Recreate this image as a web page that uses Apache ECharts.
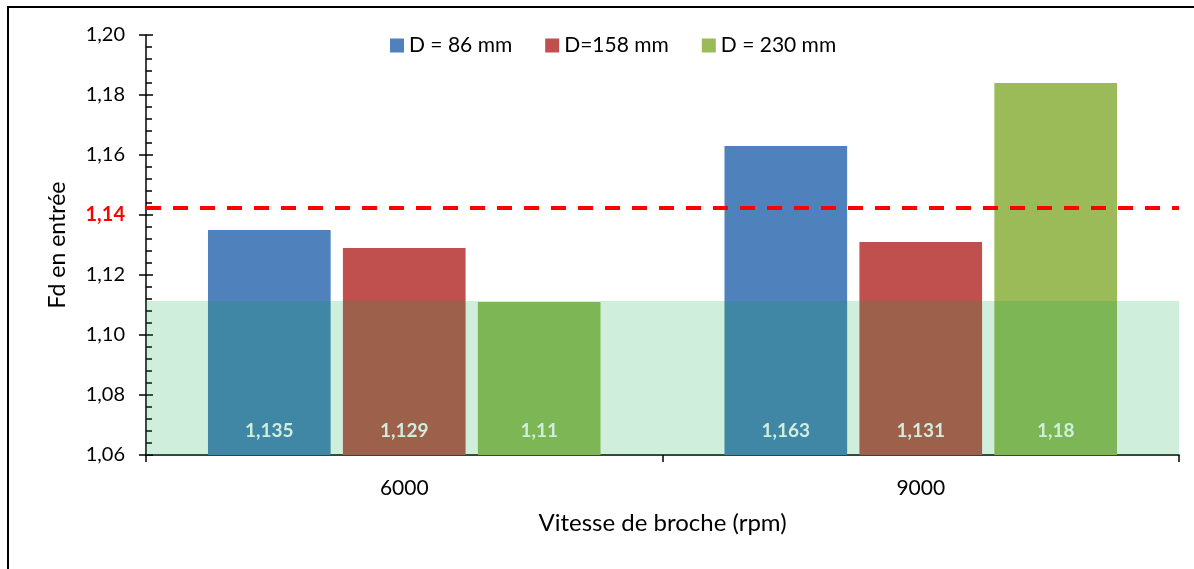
<!DOCTYPE html>
<html><head><meta charset="utf-8">
<script src="https://cdn.jsdelivr.net/npm/echarts@6/dist/echarts.min.js"></script>
<style>
html,body{margin:0;padding:0;background:#fff;overflow:hidden;}
#c{width:1194px;height:569px;}
#frame{position:absolute;left:7px;top:6px;width:1300px;height:700px;border-left:2.5px solid #000;border-top:2.5px solid #000;pointer-events:none;}
</style>
</head><body><div id="c"></div><div id="frame"></div>
<script>
const categories = ['6000', '9000'];
const seriesNames = ['D = 86 mm', 'D=158 mm', 'D = 230 mm'];
const d86 = [1.135, 1.163];
const d158 = [1.129, 1.131];
const d230 = [1.111, 1.184];
const labels86 = ['1,135', '1,163'];
const labels158 = ['1,129', '1,131'];
const labels230 = ['1,11', '1,18'];
const yMin = 1.06, yMax = 1.20, yStep = 0.02;
const thresholdValue = 1.1423;
const bandTop = 1.1113;
const colors = ['#4f81bd', '#c0504d', '#9bbb59'];
const FONT = 'Lato';

const chart = echarts.init(document.getElementById('c'));
const fmtY = v => {
  const s = v.toFixed(2).replace('.', ',');
  return Math.abs(v - 1.14) < 1e-6 ? '{r|' + s + '}' : s;
};
function barSeries(i, data, labels, extra) {
  return Object.assign({
    name: seriesNames[i], type: 'bar', data: data,
    barGap: '10%', barCategoryGap: '24%',
    itemStyle: { color: colors[i] },
    label: {
      show: true, position: 'insideBottom', distance: 15,
      color: '#ffffff', fontSize: 19, fontWeight: 'bold', fontFamily: FONT,
      formatter: p => labels[p.dataIndex]
    }
  }, extra || {});
}
const option = {
  animation: false,
  backgroundColor: '#fff',
  grid: { left: 146, right: 15, top: 35, bottom: 114, containLabel: false },
  legend: {
    data: seriesNames, left: 385, top: 30, icon: 'rect',
    itemWidth: 14, itemHeight: 14, itemGap: 33,
    textStyle: { fontSize: 21, fontFamily: FONT, color: '#000' }
  },
  xAxis: {
    type: 'category', data: categories,
    name: 'Vitesse de broche (rpm)', nameLocation: 'middle', nameGap: 56,
    nameTextStyle: { fontSize: 24, fontFamily: FONT, color: '#000' },
    axisLine: { lineStyle: { color: '#000', width: 1.5 } },
    axisTick: { show: true, alignWithLabel: false, length: 7, lineStyle: { color: '#000', width: 1.5 } },
    axisLabel: { fontSize: 21, fontFamily: FONT, color: '#000', margin: 23 }
  },
  yAxis: [
    {
      type: 'value', min: yMin, max: yMax, interval: yStep, position: 'left',
      name: 'Fd en entrée', nameLocation: 'middle', nameGap: 77,
      nameTextStyle: { fontSize: 23, fontFamily: FONT, color: '#000' },
      axisLine: { show: true, lineStyle: { color: '#000', width: 1.5 } },
      axisTick: { show: true, length: 7, lineStyle: { color: '#000', width: 1.5 } },
      splitLine: { show: false },
      axisLabel: {
        fontSize: 20, fontFamily: FONT, color: '#000', margin: 21, formatter: fmtY,
        rich: { r: { color: '#ff0000', fontWeight: 'bold', fontSize: 20, fontFamily: FONT } }
      }
    },
    {
      type: 'value', min: yMin, max: yMax, interval: yStep, position: 'left', offset: 0,
      axisLine: { show: false },
      axisTick: { show: true, inside: true, length: 7, lineStyle: { color: '#000', width: 1.5 } },
      minorTick: { show: true, splitNumber: 5, length: 6, lineStyle: { color: '#000', width: 1.5 } },
      splitLine: { show: false }, axisLabel: { show: false }
    }
  ],
  series: [
    barSeries(0, d86, labels86, {
      markArea: {
        z: 5, silent: true,
        itemStyle: { color: 'rgba(0,167,68,0.19)' },
        data: [[{ yAxis: yMin }, { yAxis: bandTop }]]
      },
      markLine: {
        z: 6, silent: true, symbol: ['none', 'none'], precision: 4,
        lineStyle: { color: '#ff0000', width: 4, type: [15, 12] },
        label: { show: false },
        data: [{ yAxis: thresholdValue }]
      }
    }),
    barSeries(1, d158, labels158),
    barSeries(2, d230, labels230)
  ]
};
chart.setOption(option);
</script>
</body></html>
